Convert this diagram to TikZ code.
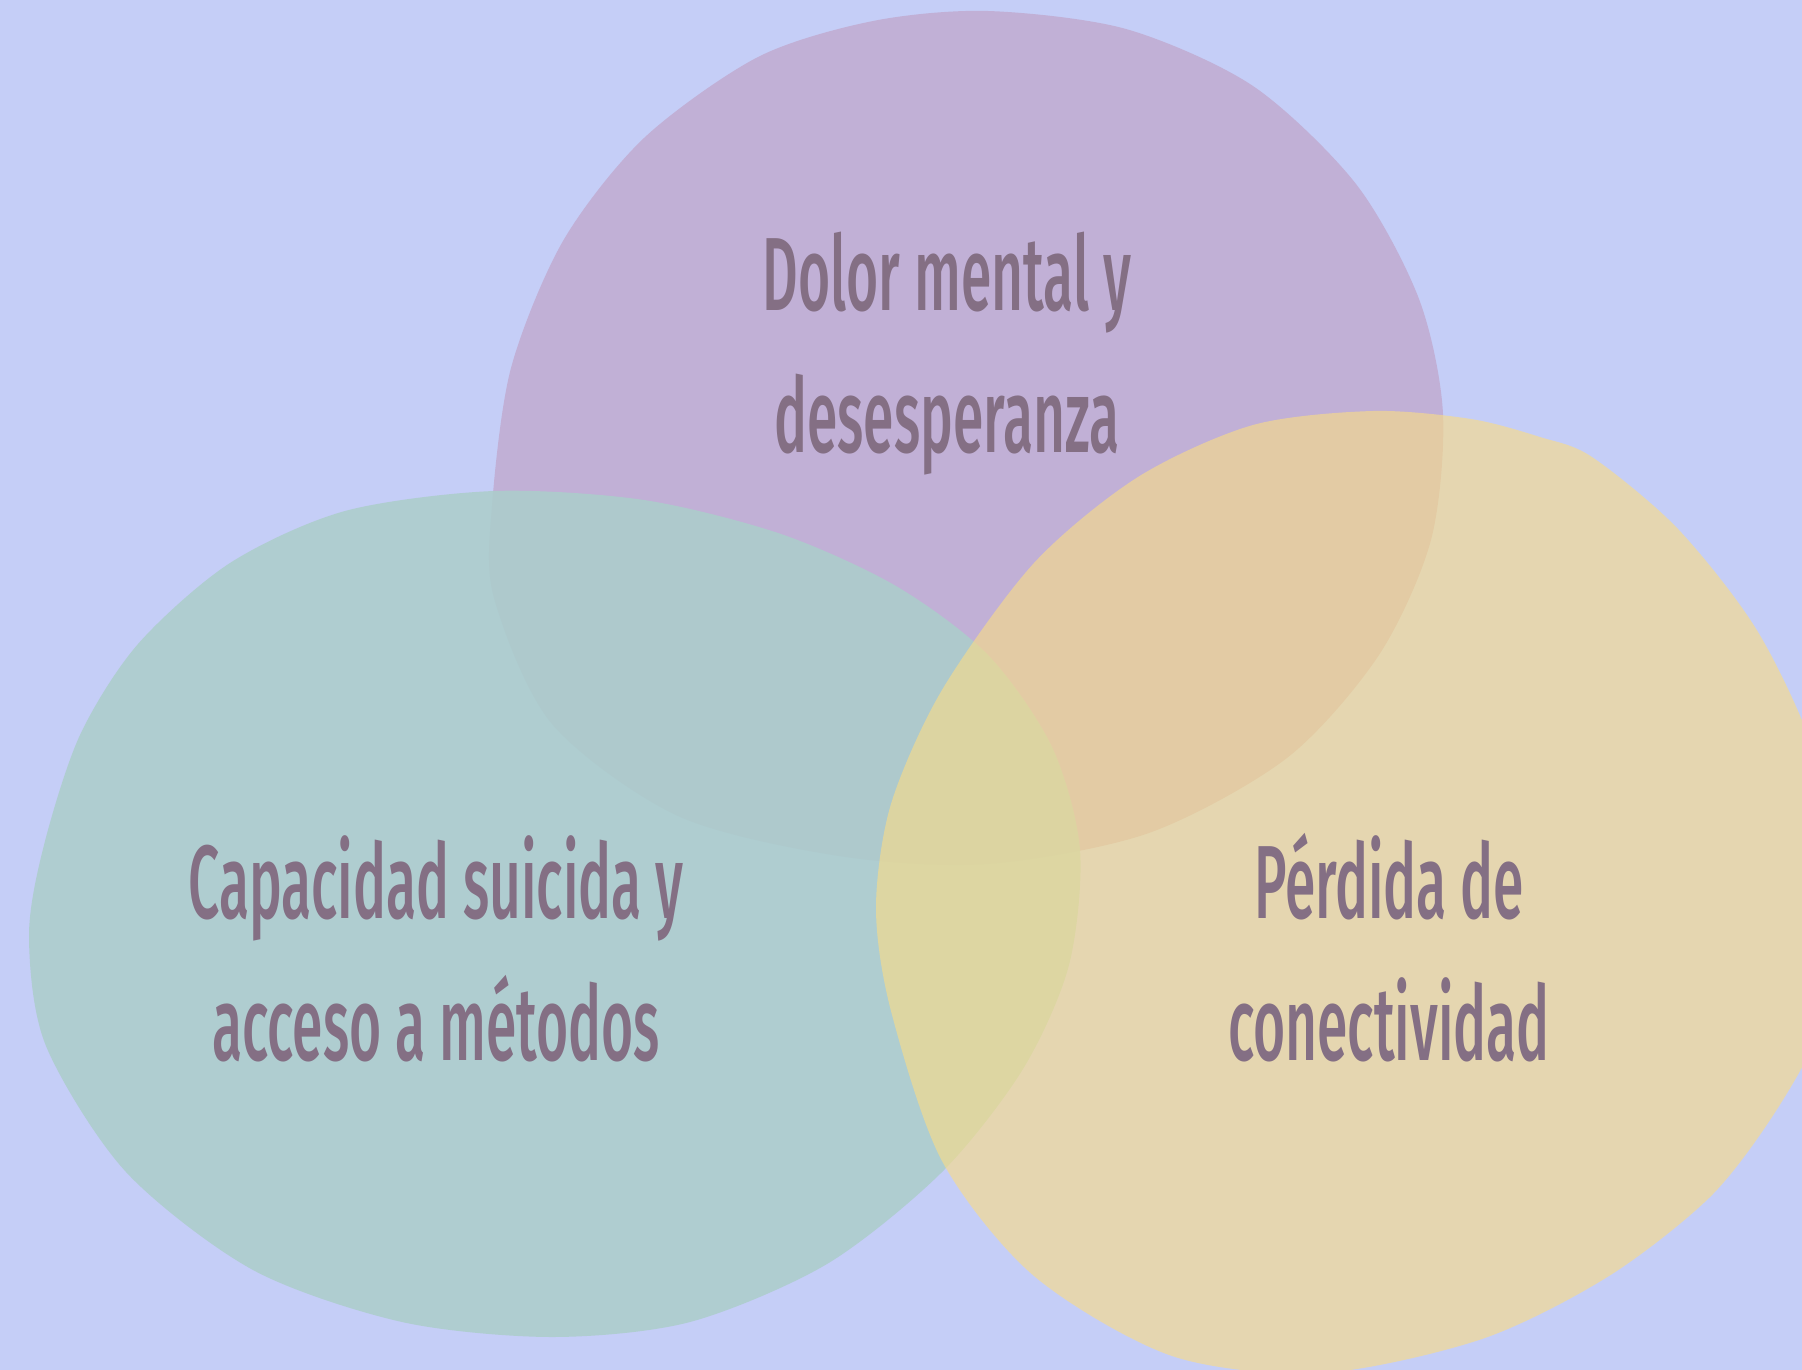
\documentclass[tikz,border=0pt]{standalone}
\usepackage{fontspec}
\setmainfont{Fira Sans}[FakeStretch=0.53,UprightFont={* Medium}]
\usepackage{tikz}
\definecolor{fondo}{RGB}{197,206,247}
\definecolor{lila}{RGB}{193,176,214}
\definecolor{verde}{RGB}{172,205,203}
\definecolor{ocre}{RGB}{248,220,136}
\definecolor{texto}{RGB}{132,111,132}

\begin{document}
\begin{tikzpicture}[x=1pt,y=-1pt,
  mancha/.style={smooth cycle,tension=0.5},
  rotulo/.style={text=texto,align=center,anchor=base,inner sep=0pt,
    font=\fontsize{104}{142}\selectfont}]
\useasboundingbox (0,0) rectangle (1802,1370);
\fill[fondo] (0,0) rectangle (1802,1370);
\clip (0,0) rectangle (1802,1370);

% lila arriba
\fill[lila] plot[mancha] coordinates {(988,11) (1126,29) (1253,86) (1356,184) (1419,299) (1443,414) (1431,540) (1379,655) (1287,758) (1149,833) (988,864) (839,856) (678,816) (552,724) (494,598) (492,506) (511,368) (563,241) (644,138) (758,57) (873,21)};
% verde izquierda
\fill[verde,opacity=0.88] plot[mancha] coordinates {(494,491) (644,500) (781,534) (896,586) (988,655) (1052,747) (1080,850) (1069,965) (1023,1069) (942,1172) (827,1264) (690,1322) (552,1337) (402,1322) (253,1270) (126,1172) (46,1046) (29,937) (44,845) (80,735) (138,644) (230,563) (345,511)};
% ocre derecha
\fill[ocre,opacity=0.63] plot[mancha] coordinates {(1373,411) (1471,419) (1540,437) (1592,457) (1678,529) (1758,632) (1816,758) (1839,896) (1827,1011) (1781,1103) (1712,1195) (1609,1276) (1482,1339) (1322,1373) (1172,1356) (1034,1276) (942,1161) (891,1011) (876,908) (891,804) (942,690) (1034,563) (1138,477) (1253,425)};

\node[rotulo] (dolor) at (947,452) {Dolor mental y\\desesperanza};
\node[rotulo] (capacidad) at (436,1060) {Capacidad suicida y\\acceso a métodos};
\node[rotulo] (perdida) at (1389,1060) {Pérdida de\\conectividad};
\end{tikzpicture}
\end{document}
